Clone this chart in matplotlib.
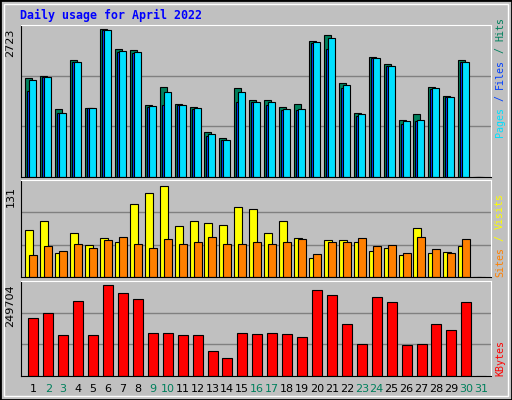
import matplotlib
matplotlib.use("Agg")
import matplotlib.pyplot as plt
from matplotlib.patches import Rectangle

days = list(range(1, 32))
weekend = [2, 3, 9, 10, 16, 17, 23, 24, 30, 31]

hits = [1815, 1852, 1260, 2149, 1278, 2723, 2353, 2334, 1334, 1649, 1352, 1297, 834, 722, 1630,
        1426, 1426, 1297, 1352, 2501, 2618, 1723, 1186, 2204, 2075, 1056, 1167, 1649, 1482, 2149, 0]
files = [1778, 1834, 1186, 2112, 1278, 2705, 2316, 2297, 1315, 1556, 1334, 1278, 797, 685, 1556,
         1371, 1389, 1260, 1260, 2482, 2556, 1686, 1167, 2186, 2038, 1037, 1056, 1630, 1463, 2112, 0]
pages = [1581, 1834, 1186, 2112, 1278, 2705, 2297, 2279, 1297, 1334, 1334, 1260, 760, 685, 1389,
         1371, 1334, 1241, 1241, 2464, 2353, 1630, 1130, 2186, 2038, 982, 1037, 1612, 1463, 2112, 0]
visits = [68, 80, 34, 63, 46, 56, 50, 105, 121, 131, 74, 81, 78, 75, 100, 98, 64, 81, 56, 28,
          53, 53, 51, 37, 41, 31, 71, 34, 36, 44, 0]
sites = [31, 44, 38, 48, 41, 53, 57, 48, 41, 54, 47, 50, 57, 48, 48, 51, 48, 50, 54, 33,
         51, 51, 56, 44, 46, 34, 57, 40, 34, 54, 0]
kbytes = [159155, 172877, 112508, 205800, 112508, 249704, 227757, 211293, 117996, 117996,
          112508, 112508, 68602, 49393, 117996, 115250, 117996, 115250, 107018, 235990,
          222266, 142690, 87809, 216782, 203063, 85066, 87809, 142690, 126227, 203063, 0]

BG = "#C0C0C0"
C_HITS, C_FILES, C_PAGES = "#00805C", "#00E0FF", "#0040FF"
C_VISITS, C_SITES, C_KB = "#FFFF00", "#FF8000", "#FF0000"
MONO = "DejaVu Sans Mono"
W, H = 512, 400
DX = 14.93  # pixels per day


def frac(x0, y0, x1, y1):
    return [x0 / W, 1 - y1 / H, (x1 - x0) / W, (y1 - y0) / H]


fig = plt.figure(figsize=(5.12, 4.0), dpi=100, facecolor=BG)
fig.patches.append(Rectangle((0, 0), 1, 1, transform=fig.transFigure, fill=False,
                             edgecolor="black", linewidth=2))
fig.patches.append(Rectangle((4 / W, 4 / H), 1 - 8 / W, 1 - 8 / H, transform=fig.transFigure,
                             fill=False, edgecolor="white", linewidth=1))

xlim = (1 + (21 - 33.3) / DX, 1 + (491 - 33.3) / DX)


def setup(ax, top, maxval, maxlabel):
    ax.set_facecolor(BG)
    ax.set_xlim(*xlim)
    ax.set_ylim(0, top)
    ax.set_xticks([])
    ax.set_yticks([])
    for s in ax.spines.values():
        s.set_color("black")
    ax.spines["top"].set_color("white")
    ax.spines["right"].set_color("white")
    for g in (top / 3, 2 * top / 3):
        ax.axhline(g, color="#808080", linewidth=1, zorder=0)
    ax.text(-0.012, maxval / top, maxlabel, transform=ax.transAxes, rotation=90,
            ha="right", va="top", fontsize=8, family="DejaVu Sans")


def side_label(y_bottom, parts):
    y = y_bottom
    for txt, col in parts:
        fig.text(500 / W, 1 - y / H, txt, rotation=90, rotation_mode="anchor",
                 ha="left", va="center", color=col, fontsize=7.2, family=MONO)
        y -= 6 * len(txt)


bw = 7 / DX
ax1 = fig.add_axes(frac(21, 25, 491, 177))
setup(ax1, 2723 * 151 / 147, 2723, "2723")
l = [d - 0.536 for d in days]
ax1.bar(l, hits, width=bw, align="edge", color=C_HITS, edgecolor="black", linewidth=0.8)
ax1.bar([x + 2 / DX for x in l], pages, width=bw, align="edge", color=C_PAGES, edgecolor="black", linewidth=0.8)
ax1.bar([x + 4 / DX for x in l], files, width=bw, align="edge", color=C_FILES, edgecolor="black", linewidth=0.8)
side_label(137, [("Pages", C_FILES), (" / ", C_PAGES), ("Files", C_PAGES), (" / ", C_HITS), ("Hits", C_HITS)])

ax2 = fig.add_axes(frac(21, 180, 491, 277))
setup(ax2, 131 * 294 / 276, 131, "131")
bw2 = 8 / DX
ax2.bar([d - 0.536 for d in days], visits, width=bw2, align="edge", color=C_VISITS, edgecolor="black", linewidth=0.8)
ax2.bar([d - 0.536 + 4 / DX for d in days], sites, width=bw2, align="edge", color=C_SITES, edgecolor="black", linewidth=0.8)
side_label(277, [("Sites", C_SITES), (" / ", C_VISITS), ("Visits", C_VISITS)])

ax3 = fig.add_axes(frac(21, 281, 491, 376))
setup(ax3, 249704 * 284 / 273, 249704, "249704")
ax3.bar([d - 0.33 for d in days], kbytes, width=10 / DX, align="edge", color=C_KB, edgecolor="black", linewidth=0.8)
side_label(376, [("KBytes", C_KB)])

for d in days:
    fig.text((33.3 + (d - 1) * DX) / W, 1 - 389 / H, str(d), ha="center", va="center",
             fontsize=8, color=C_HITS if d in weekend else "black")

fig.text(20 / W, 1 - 15 / H, "Daily usage for April 2022", ha="left", va="center",
         fontsize=8.4, fontweight="bold", family=MONO, color="#0000FF")

fig.savefig("out.png", dpi=100, facecolor=BG)
